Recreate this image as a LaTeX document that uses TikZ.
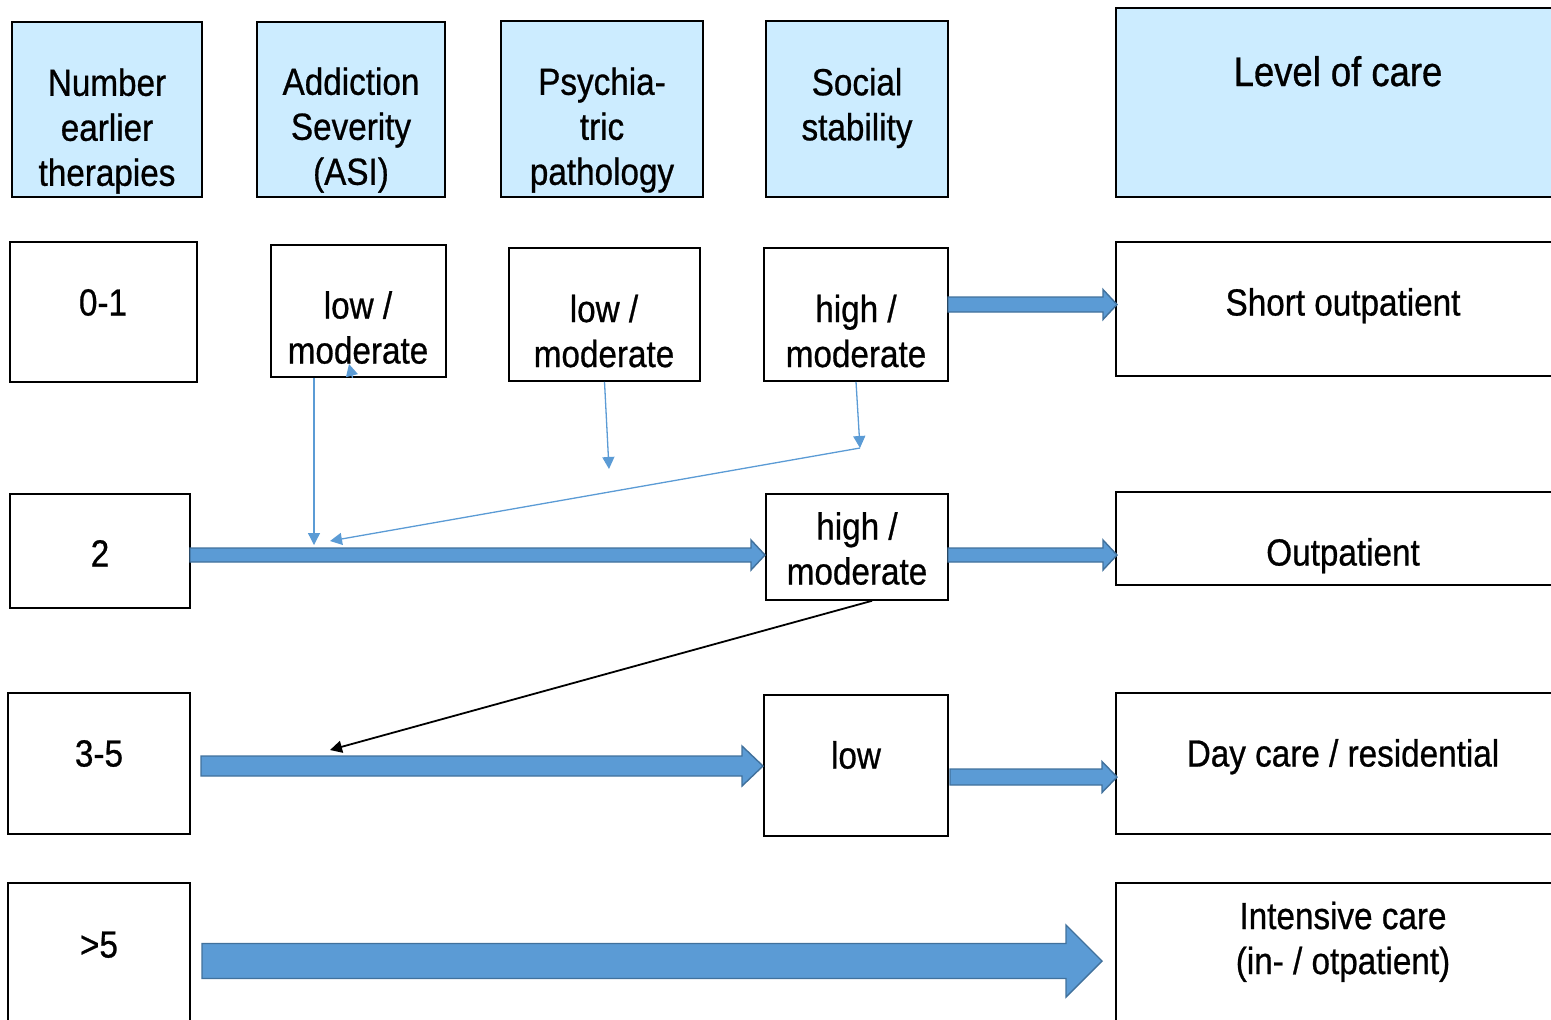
\documentclass[tikz,border=0pt]{standalone}
\usepackage{fontspec}
\setmainfont[FakeStretch=0.88,FakeBold=0.7]{Liberation Sans}
\usetikzlibrary{arrows.meta,calc}
\definecolor{hdr}{HTML}{CCECFF}
\definecolor{abl}{HTML}{5B9BD5}
\definecolor{abd}{HTML}{41719C}
\newcommand\blockarr[6]{%
  \draw[blkarr] (#1,#3-#4) -- (#2-#6,#3-#4) -- (#2-#6,#3-#5) -- (#2,#3) --
    (#2-#6,#3+#5) -- (#2-#6,#3+#4) -- (#1,#3+#4) -- cycle;}
\begin{document}
\begin{tikzpicture}[x=0.5pt,y=-0.5pt,
  box/.style={draw=black, line width=0.8pt, inner sep=0pt},
  hbox/.style={box, fill=hdr},
  sz/.style 2 args={minimum width=#1*0.5pt, minimum height=#2*0.5pt},
  txt/.style={font=\fontsize{18.9}{22.5}\selectfont, align=center, inner sep=0pt},
  thinarr/.style={draw=abl, line width=0.65pt, -{Triangle[length=6pt,width=6pt]}},
  blackarr/.style={draw=black, line width=0.9pt, -{Triangle[length=6pt,width=6pt]}},
  blkarr/.style={fill=abl, draw=abd, line width=0.7pt, line join=miter},
]
\useasboundingbox (0,0) rectangle (1551,1019);
\clip (0,0) rectangle (1551,1019);

% header row
\node[hbox, sz={190}{175}] (h1) at (107,109.5) {};
\node[hbox, sz={188}{175}] (h2) at (351,109.5) {};
\node[hbox, sz={202}{176}] (h3) at (602,109) {};
\node[hbox, sz={182}{176}] (h4) at (857,109) {};
\node[hbox, sz={444}{189}] (h5) at (1338,102.5) {};
\node[txt] (h1t) at (107,131) {Number\\earlier\\therapies};
\node[txt] (h2t) at (351,130) {Addiction\\Severity\\(ASI)};
\node[txt] (h3t) at (602,130) {Psychia-\\tric\\pathology};
\node[txt] (h4t) at (857,108) {Social\\stability};
\node[txt, font=\fontsize{20.7}{24}\selectfont, anchor=base] (h5t) at (1338,86) {Level of care};

% row 1
\node[box, sz={187}{140}] (r1a) at (103.5,312) {};
\node[box, sz={175}{132}] (r1b) at (358.5,311) {};
\node[box, sz={191}{133}] (r1c) at (604.5,314.5) {};
\node[box, sz={184}{133}] (r1d) at (856,314.5) {};
\node[box, sz={444}{134}] (r1e) at (1338,309) {};
\node[txt, anchor=base] (r1at) at (103,315.5) {0-1};
\node[txt] (r1bt) at (358,327.5) {low /\\moderate};
\node[txt] (r1ct) at (604,331) {low /\\moderate};
\node[txt] (r1dt) at (856,331) {high /\\moderate};
\node[txt, anchor=base] (r1et) at (1343,315.5) {Short outpatient};

% row 2
\node[box, sz={180}{114}] (r2a) at (100,551) {};
\node[box, sz={182}{106}] (r2d) at (857,547) {};
\node[box, sz={444}{93}] (r2e) at (1338,538.5) {};
\node[txt, anchor=base] (r2at) at (100,566.5) {2};
\node[txt] (r2dt) at (857,548.5) {high /\\moderate};
\node[txt, anchor=base] (r2et) at (1343,565.5) {Outpatient};

% row 3
\node[box, sz={182}{141}] (r3a) at (99,763.5) {};
\node[box, sz={184}{141}] (r3d) at (856,765.5) {};
\node[box, sz={444}{141}] (r3e) at (1338,763.5) {};
\node[txt, anchor=base] (r3at) at (99,766.5) {3-5};
\node[txt, anchor=base] (r3dt) at (856,768.5) {low};
\node[txt, anchor=base] (r3et) at (1343,766.5) {Day care / residential};

% row 4
\node[box, sz={182}{157}] (r4a) at (99,961.5) {};
\node[box, sz={444}{157}] (r4e) at (1338,961.5) {};
\node[txt, anchor=base] (r4at) at (99,957.5) {>5};
\node[txt] (r4et) at (1343,941.75) {Intensive care\\(in- / otpatient)};

% block arrows
\blockarr{948}{1117}{304.5}{7.5}{15}{14}
\blockarr{190}{765}{555}{7}{15}{14}
\blockarr{948}{1117}{555}{7}{15}{14}
\blockarr{201}{763}{766}{10}{20}{21}
\blockarr{950}{1117}{777}{8}{15.5}{15}
\blockarr{202}{1102}{961}{17.5}{36}{36}

% thin connectors
\coordinate (t1) at (314,545);
\coordinate (t2) at (609,469);
\coordinate (t3) at (860,448);
\coordinate (t4) at (330,541);
\coordinate (t5) at (330,750);
\coordinate (t6) at (349,364);
\draw[thinarr] (r1b.south -| t1) -- (t1);
\draw[thinarr] ([xshift=-3pt]r1b.south) -- (t6);
\draw[thinarr] (r1c.south) -- (t2);
\draw[thinarr] (r1d.south) -- (t3);
\draw[thinarr] (t3) -- (t4);
\draw[blackarr] ([xshift=7.5pt]r2d.south) -- (t5);
\end{tikzpicture}
\end{document}
